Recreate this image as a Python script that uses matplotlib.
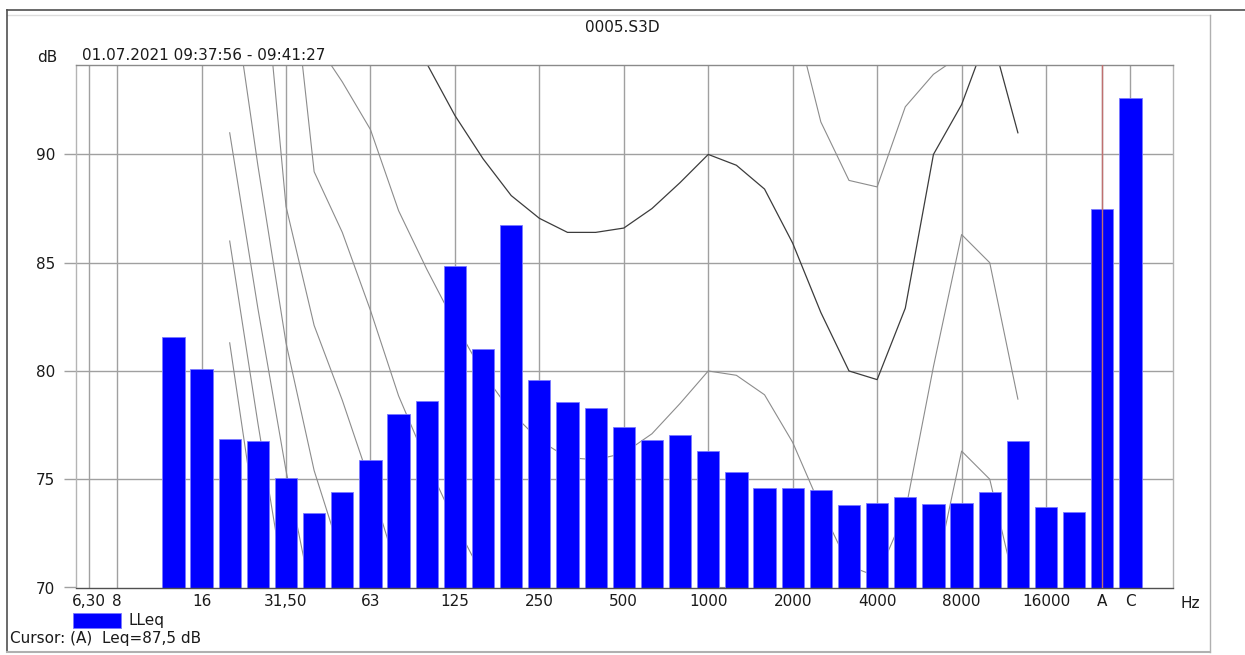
import numpy as np
import matplotlib
matplotlib.use("Agg")
import matplotlib.pyplot as plt
from matplotlib.lines import Line2D
from matplotlib.patches import Rectangle

# Axis categories: third-octave bands plus the A / C broadband values
categories = ['6.3', '8', '10', '12.5', '16', '20', '25', '31.5', '40', '50', '63',
              '80', '100', '125', '160', '200', '250', '315', '400', '500', '630',
              '800', '1000', '1250', '1600', '2000', '2500', '3150', '4000', '5000',
              '6300', '8000', '10000', '12500', '16000', '20000', 'A', 'C']

# Measured LLeq spectrum
bar_bands = ['12.5', '16', '20', '25', '31.5', '40', '50', '63', '80', '100', '125',
             '160', '200', '250', '315', '400', '500', '630', '800', '1000', '1250',
             '1600', '2000', '2500', '3150', '4000', '5000', '6300', '8000', '10000',
             '12500', '16000', '20000', 'A', 'C']
lleq = [81.55, 80.1, 76.85, 76.75, 75.05, 73.45, 74.4, 75.9, 78.0, 78.6, 84.85,
        81.0, 86.75, 79.6, 78.55, 78.3, 77.4, 76.8, 77.05, 76.3, 75.35,
        74.6, 74.6, 74.5, 73.8, 73.9, 74.2, 73.85, 73.9, 74.4,
        76.75, 73.7, 73.5, 87.5, 92.6]

# Equal-loudness contours (phon), 20 Hz .. 12.5 kHz
contour_bands = ['20', '25', '31.5', '40', '50', '63', '80', '100', '125', '160',
                 '200', '250', '315', '400', '500', '630', '800', '1000', '1250',
                 '1600', '2000', '2500', '3150', '4000', '5000', '6300', '8000',
                 '10000', '12500']
phon_100 = [127.2, 121.9, 116.6, 112.6, 112.3, 108.9, 105.6, 103.6, 101.8, 100.1,
            98.7, 97.8, 97.2, 97.3, 97.4, 98.1, 99.1, 100.0, 99.1, 97.7, 96.7, 91.5,
            88.8, 88.5, 92.2, 93.7, 94.6, 103.0, 101.0]
phon_90 = [120.3, 114.4, 108.7, 104.4, 103.2, 99.8, 96.3, 94.2, 91.8, 89.8, 88.1,
           87.05, 86.4, 86.4, 86.6, 87.5, 88.7, 90.0, 89.5, 88.4, 85.9, 82.7, 80.0,
           79.6, 82.9, 90.0, 92.3, 95.8, 91.0]
phon_80 = [113.7, 107.3, 101.3, 95.3, 93.35, 91.15, 87.4, 84.7, 82.2, 79.9, 78.1,
           76.8, 76.0, 75.9, 76.2, 77.1, 78.5, 80.0, 79.8, 78.9, 76.7, 73.7, 71.0,
           70.5, 73.5, 80.2, 86.3, 85.0, 78.7]
phon_70 = [110.0, 105.0, 101.1, 89.2, 86.4, 82.8, 78.85, 75.8, 73.0, 70.5, 68.4,
           66.9, 65.95, 65.8, 66.0, 67.0, 68.4, 70.0, 70.0, 69.3, 67.3, 64.5, 61.9,
           61.25, 64.0, 70.2, 76.3, 75.0, 69.5]
phon_60 = [106.0, 101.6, 87.6, 82.1, 78.65, 74.8, 70.6, 67.3, 64.2, 61.5, 59.0,
           57.5, 56.0, 55.7, 55.9, 56.8, 58.3, 60.0, 60.1, 59.6, 57.9, 55.3, 52.7,
           52.0, 54.5, 60.2, 66.3, 65.0, 60.0]
phon_50 = [98.5, 89.5, 81.3, 75.4, 71.3, 67.1, 62.7, 59.1, 55.5, 52.5, 50.0, 48.0,
           46.5, 45.8, 45.9, 46.6, 48.2, 50.0, 50.2, 49.9, 48.3, 46.0, 43.5, 42.8,
           45.0, 50.2, 56.3, 55.0, 50.0]
phon_40 = [91.0, 82.9, 75.4, 69.0, 64.3, 59.75, 55.0, 51.2, 47.5, 44.0, 41.5, 39.0,
           37.0, 36.0, 35.8, 36.4, 38.0, 40.0, 40.3, 40.1, 38.7, 36.5, 34.2, 33.5,
           35.6, 40.2, 46.3, 45.0, 40.0]
phon_30 = [86.0, 77.6, 69.7, 62.9, 57.6, 52.6, 47.65, 43.5, 39.7, 36.2, 33.5, 31.0,
           28.8, 27.5, 27.0, 27.2, 28.4, 30.0, 30.4, 30.3, 29.0, 26.9, 24.6, 24.0,
           26.1, 30.2, 36.3, 35.0, 30.0]
phon_20 = [81.3, 72.5, 64.3, 57.1, 51.2, 45.8, 40.5, 36.2, 32.2, 28.7, 25.8, 23.2,
           20.9, 19.4, 18.7, 18.6, 19.2, 20.0, 20.5, 20.4, 19.2, 17.2, 14.9, 14.3,
           16.4, 20.2, 26.3, 25.0, 20.0]

tick_positions = ['6.3', '8', '16', '31.5', '63', '125', '250', '500', '1000', '2000',
                  '4000', '8000', '16000', 'A', 'C']
tick_labels = ['6,30', '8', '16', '31,50', '63', '125', '250', '500', '1000', '2000',
               '4000', '8000', '16000', 'A', 'C']
y_ticks = [70, 75, 80, 85, 90]

Y_MIN, Y_MAX = 70.0, 94.13
W, H = 1245, 655
FONT = 'DejaVu Sans'
TXT = '#1a1a1a'
GRID = '#a0a0a0'

plt.rcParams['font.family'] = [FONT]

fig = plt.figure(figsize=(W / 100, H / 100), dpi=100)
fig.patch.set_facecolor('white')


def fx(px):
    return px / W


def fy(py):
    return 1 - py / H


ax = fig.add_axes([fx(76), fy(587.5), fx(1173) - fx(76), fy(65) - fy(587.5)])
pos = {c: i for i, c in enumerate(categories)}

# grid
for c in tick_positions:
    ax.axvline(pos[c], color=GRID, lw=1.0, zorder=0)
for yv in y_ticks[1:]:
    ax.axhline(yv, color=GRID, lw=1.0, zorder=0)

# equal-loudness contours
cx = [pos[c] for c in contour_bands]
for cv in [phon_100, phon_80, phon_70, phon_60, phon_50, phon_40, phon_30, phon_20]:
    ax.plot(cx, cv, color='#8c8c8c', lw=0.8, zorder=1)
ax.plot(cx, phon_90, color='#3c3c3c', lw=0.9, zorder=1)

# bars
bx = [pos[b] for b in bar_bands]
heights = np.array(lleq) - Y_MIN
ax.bar(bx, heights, bottom=Y_MIN, width=0.79, color='#0000ff',
       edgecolor='#7a7aff', linewidth=0.6, zorder=2)

# cursor at A
ax.axvline(pos['A'], color='#c07070', lw=1.0, zorder=3)

ax.set_xlim(-0.46, 38.51)
ax.set_ylim(Y_MIN, Y_MAX)
ax.set_xticks([pos[c] for c in tick_positions])
ax.set_xticklabels(tick_labels)
ax.set_yticks(y_ticks)
ax.tick_params(axis='x', length=0, pad=5, labelsize=11, labelcolor=TXT)
ax.tick_params(axis='y', length=9, width=1.0, color=GRID, pad=6, labelsize=11,
               labelcolor=TXT)
for s in ['left', 'right']:
    ax.spines[s].set_color('#b4b4b4')
    ax.spines[s].set_linewidth(1.0)
ax.spines['top'].set_color('#8a8a8a')
ax.spines['top'].set_linewidth(1.0)
ax.spines['bottom'].set_color('#505050')
ax.spines['bottom'].set_linewidth(1.0)

# units and header
fig.text(fx(1190), fy(603), 'Hz', ha='center', va='center', fontsize=11, color=TXT)
fig.text(fx(37), fy(57), 'dB', ha='left', va='center', fontsize=11, color=TXT)
fig.text(fx(82), fy(55), '01.07.2021 09:37:56 - 09:41:27', ha='left', va='center',
         fontsize=11, color=TXT)
fig.text(fx(622), fy(27), '0005.S3D', ha='center', va='center', fontsize=11, color=TXT)

# legend
fig.add_artist(Rectangle((fx(73), fy(628)), fx(121) - fx(73), fy(613) - fy(628),
                         transform=fig.transFigure, facecolor='#0000ff',
                         edgecolor='#7a7aff', lw=0.6))
fig.text(fx(128), fy(620), 'LLeq', ha='left', va='center', fontsize=11, color=TXT)
fig.text(fx(10), fy(638), 'Cursor: (A)  Leq=87,5 dB', ha='left', va='center',
         fontsize=11, color=TXT)

# window frame
fig.add_artist(Line2D([fx(7), fx(1245)], [fy(10), fy(10)], color='#505050', lw=1.2,
                      transform=fig.transFigure))
fig.add_artist(Line2D([fx(7), fx(1210)], [fy(15), fy(15)], color='#dcdcdc', lw=1.0,
                      transform=fig.transFigure))
fig.add_artist(Line2D([fx(7), fx(7)], [fy(10), fy(652)], color='#505050', lw=1.2,
                      transform=fig.transFigure))
fig.add_artist(Line2D([fx(1210), fx(1210)], [fy(15), fy(652)], color='#b0b0b0',
                      lw=1.0, transform=fig.transFigure))
fig.add_artist(Line2D([fx(7), fx(1210)], [fy(652), fy(652)], color='#b0b0b0', lw=1.5,
                      transform=fig.transFigure))

fig.savefig('out.png', dpi=100, facecolor='white')
